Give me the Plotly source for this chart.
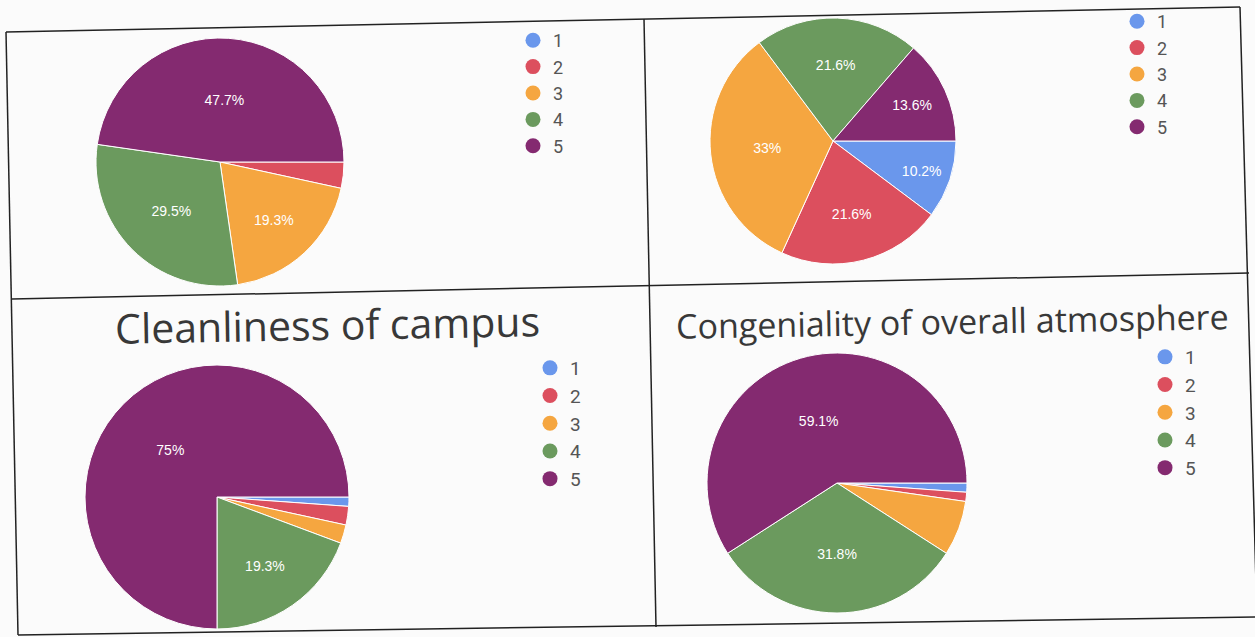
import plotly.graph_objects as go

# answers on a 1-5 scale, 88 responses per question
ratings = ['1', '2', '3', '4', '5']
top_left_counts = [0, 3, 17, 26, 42]
top_right_counts = [9, 19, 29, 19, 12]
cleanliness_counts = [1, 2, 2, 17, 66]
congeniality_counts = [1, 1, 6, 28, 52]
chart_titles = ['', '', 'Cleanliness of campus', 'Congeniality of overall atmosphere']

colors = ['#6a97ec', '#dc4f5e', '#f5a640', '#6b9a5e', '#842a70']

W, H = 1255, 637


def fx(x):
    return x / W


def fy(y):
    return 1 - y / H


def pct_labels(counts):
    total = sum(counts)
    out = []
    for c in counts:
        p = c / total * 100
        if p < 10:
            out.append('')
            continue
        s = f'{p:.1f}'
        if s.endswith('.0'):
            s = s[:-2]
        out.append(s + '%')
    return out


# (counts, pie centre x, centre y, radius, legend id, legend marker x, first marker y, legend font)
panels = [
    (top_left_counts, 220, 162, 124, 'legend', 533, 39, 18),
    (top_right_counts, 833, 141, 123, 'legend2', 1137, 20, 18),
    (cleanliness_counts, 217, 497, 132, 'legend3', 550, 366, 19),
    (congeniality_counts, 837, 483, 130, 'legend4', 1165, 355, 19),
]

fig = go.Figure()
layout_legends = {}

for counts, cx, cy, r, leg, lx, ly, lfs in panels:
    fig.add_trace(go.Pie(
        labels=ratings,
        values=counts,
        text=pct_labels(counts),
        textinfo='text',
        textposition='inside',
        insidetextorientation='horizontal',
        textfont=dict(color='white', size=14, family='Liberation Sans, Arial'),
        marker=dict(colors=colors, line=dict(color='white', width=1)),
        sort=False,
        direction='clockwise',
        rotation=90,
        showlegend=False,
        domain=dict(x=[fx(cx - r), fx(cx + r)], y=[fy(cy + r), fy(cy - r)]),
        hoverinfo='label+percent',
    ))
    # legend entries with round markers like the form summary
    for lab, col in zip(ratings, colors):
        fig.add_trace(go.Scatter(
            x=[None], y=[None], mode='markers',
            marker=dict(size=15, color=col),
            name=lab, legend=leg, showlegend=True,
        ))
    layout_legends[leg] = dict(
        x=fx(lx - 20), y=fy(ly - 17), xanchor='left', yanchor='top',
        bgcolor='rgba(0,0,0,0)', itemwidth=30,
        font=dict(size=lfs, color='#555', family='Roboto, Arial'),
    )

# table borders of the scanned page (slightly skewed)
border_lines = [
    ((6, 32), (1240, 7)),
    ((12, 299), (1249, 273)),
    ((18, 635), (1255, 617)),
    ((6, 32), (18, 635)),
    ((644, 19), (656, 627)),
    ((1240, 7), (1257, 620)),
]
shapes = []
for (x0, y0), (x1, y1) in border_lines:
    shapes.append(dict(type='line', xref='paper', yref='paper',
                       x0=fx(x0), y0=fy(y0), x1=fx(x1), y1=fy(y1),
                       line=dict(color='#222', width=1.5)))

annotations = [
    dict(text=chart_titles[2], x=fx(327), y=fy(324), xref='paper', yref='paper',
         showarrow=False, xanchor='center', yanchor='middle', textangle=-1,
         font=dict(size=41, color='#383838', family='Open Sans')),
    dict(text=chart_titles[3], x=fx(952), y=fy(321), xref='paper', yref='paper',
         showarrow=False, xanchor='center', yanchor='middle', textangle=-1,
         font=dict(size=34, color='#383838', family='Open Sans')),
]

fig.update_layout(
    width=W, height=H,
    margin=dict(l=0, r=0, t=0, b=0),
    paper_bgcolor='#fbfbfb',
    plot_bgcolor='rgba(0,0,0,0)',
    xaxis=dict(visible=False),
    yaxis=dict(visible=False),
    shapes=shapes,
    annotations=annotations,
    **layout_legends,
)

# drop the default page margin so the figure fills the window
fig.write_html('out.html', config={'displayModeBar': False},
               post_script="document.body.style.margin='0';")
